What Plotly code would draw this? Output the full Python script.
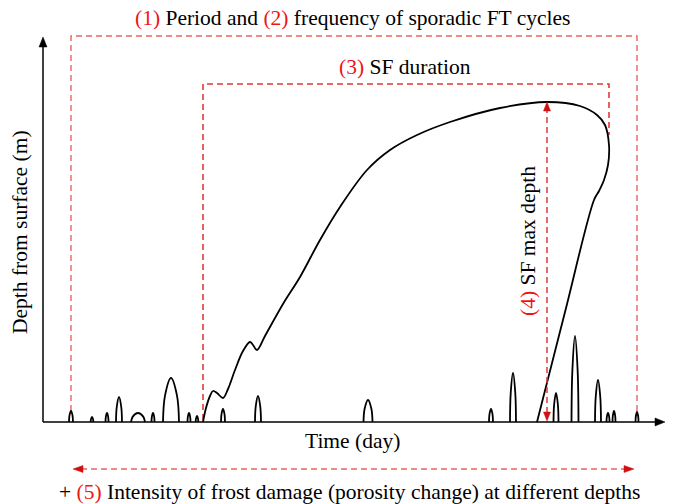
"""
Conceptual diagram of sporadic freeze-thaw (FT) cycles and sporadic freezing (SF)
"""

import plotly.graph_objects as go

# Main sporadic-freezing front (time, depth)
sf_time = [160, 163, 167, 170, 174, 180, 185, 192, 200, 207, 210, 214, 222, 240,
           257, 277, 297, 324, 347, 374, 407, 457, 504, 537, 554, 562, 566, 565,
           561, 556, 551, 522, 494]
sf_depth = [0, 14, 26, 31, 29, 24, 33, 52, 71, 80, 77, 72, 86, 118,
            145, 182, 215, 252, 272, 287, 300, 314, 320, 316, 307, 297, 277, 257,
            242, 231, 222, 110, 0]

# Short freeze-thaw events: centre time, max frost depth, half duration
ft_time = [28, 49, 64, 76, 95, 110, 128, 146, 154, 180, 215, 325,
           448, 470, 513, 532, 555, 565, 571, 594]
ft_depth = [11, 5, 9, 25, 9, 9, 44, 9, 6, 13, 26, 22,
            13, 49, 29, 86, 42, 9, 11, 10]
ft_half = [2, 1.3, 1.5, 3, 7, 1.5, 8, 1.5, 1.3, 2, 3, 4.5,
           2, 3, 2.5, 3.5, 3, 1.5, 1.5, 1.5]

# Period of sporadic FT cycles / SF duration / SF max depth
period_time = [28, 594]
period_top = 386
sf_dur_time = [160, 566]
sf_dur_top = 338
sf_end_depth = 287
sf_max_time = 504
sf_max_depth = 320

FONT = "Liberation Serif, Times New Roman, serif"
RED_TXT = "#f01414"
RED_LN = "#e03a3a"
DASH = "6px,4px"

fig = go.Figure()


def arrow_head(tip_t, tip_d, direction, color, length=9, width=7.5):
    # filled triangle pointing in `direction` with its tip at (tip_t, tip_d)
    dt, dd = {"up": (0, 1), "down": (0, -1), "left": (-1, 0), "right": (1, 0)}[direction]
    bt, bd = tip_t - dt * length, tip_d - dd * length
    pt, pd = -dd * width / 2, dt * width / 2
    fig.add_trace(go.Scatter(
        x=[tip_t, bt + pt, bt - pt, tip_t],
        y=[tip_d, bd + pd, bd - pd, tip_d],
        mode="lines", fill="toself", fillcolor=color,
        line=dict(color=color, width=0.5), hoverinfo="skip"
    ))


# axes
fig.add_trace(go.Scatter(x=[0, 614], y=[0, 0], mode="lines",
                         line=dict(color="black", width=1.5), hoverinfo="skip"))
fig.add_trace(go.Scatter(x=[0, 0], y=[0, 377], mode="lines",
                         line=dict(color="black", width=1.5), hoverinfo="skip"))
arrow_head(622, 0, "right", "black", length=10, width=8)
arrow_head(0, 385, "up", "black", length=10, width=8)

# dashed boxes
fig.add_trace(go.Scatter(
    x=[period_time[0], period_time[0], period_time[1], period_time[1]],
    y=[ft_depth[0], period_top, period_top, ft_depth[-1]],
    mode="lines", line=dict(color="#e86464", width=1.4, dash=DASH), hoverinfo="skip"
))
fig.add_trace(go.Scatter(
    x=[sf_dur_time[0], sf_dur_time[0], sf_dur_time[1], sf_dur_time[1]],
    y=[2, sf_dur_top, sf_dur_top, sf_end_depth],
    mode="lines", line=dict(color=RED_LN, width=1.6, dash=DASH), hoverinfo="skip"
))

# FT events
for c, h, w in zip(ft_time, ft_depth, ft_half):
    fig.add_trace(go.Scatter(
        x=[c - w, c - 0.75 * w, c, c + 0.75 * w, c + w],
        y=[0, 0.6 * h, h, 0.6 * h, 0],
        mode="lines", line=dict(color="black", width=1.8, shape="spline"),
        hoverinfo="skip"
    ))

# SF front
fig.add_trace(go.Scatter(
    x=sf_time, y=sf_depth, mode="lines",
    line=dict(color="black", width=1.8, shape="spline", smoothing=1.0),
    hoverinfo="skip"
))

# SF max depth arrow
fig.add_trace(go.Scatter(x=[sf_max_time, sf_max_time], y=[9, sf_max_depth - 9], mode="lines",
                         line=dict(color=RED_LN, width=1.5, dash=DASH), hoverinfo="skip"))
arrow_head(sf_max_time, sf_max_depth, "up", "#d01010", length=9, width=7)
arrow_head(sf_max_time, 1, "down", "#d01010", length=9, width=7)

# frost damage double arrow
fig.add_trace(go.Scatter(x=[period_time[0] + 10, period_time[1] - 13], y=[-47, -47], mode="lines",
                         line=dict(color="#e86464", width=1.5, dash=DASH), hoverinfo="skip"))
arrow_head(period_time[0] + 2, -47, "left", "#d01010", length=10, width=7)
arrow_head(period_time[1] - 3, -47, "right", "#d01010", length=10, width=7)


def label(t, d, text, angle=0):
    fig.add_annotation(x=t, y=d, text=text, showarrow=False, textangle=angle,
                       font=dict(family=FONT, size=21.5, color="black"),
                       xanchor="center", yanchor="middle")


def red(s):
    return f'<span style="color:{RED_TXT}">{s}</span>'


label(309, 404, f"{red('(1)')} Period and {red('(2)')} frequency of sporadic FT cycles")
label(362, 355, f"{red('(3)')} SF duration")
label(485, 181, f"{red('(4)')} SF max depth", angle=-90)
label(309, -19, "Time (day)")
label(-23, 190, "Depth from surface (m)", angle=-90)
label(306, -70, f"+ {red('(5)')} Intensity of frost damage (porosity change) at different depths")

fig.update_layout(
    width=676, height=504,
    margin=dict(l=0, r=0, t=0, b=0),
    plot_bgcolor="white", paper_bgcolor="white",
    showlegend=False,
    xaxis=dict(range=[-43, 633], visible=False, fixedrange=True),
    yaxis=dict(range=[-82, 422], visible=False, fixedrange=True),
)

# drop the default page margin so the figure fills the window
fig.write_html("out.html", config={"displayModeBar": False},
               post_script="document.body.style.margin='0';")
